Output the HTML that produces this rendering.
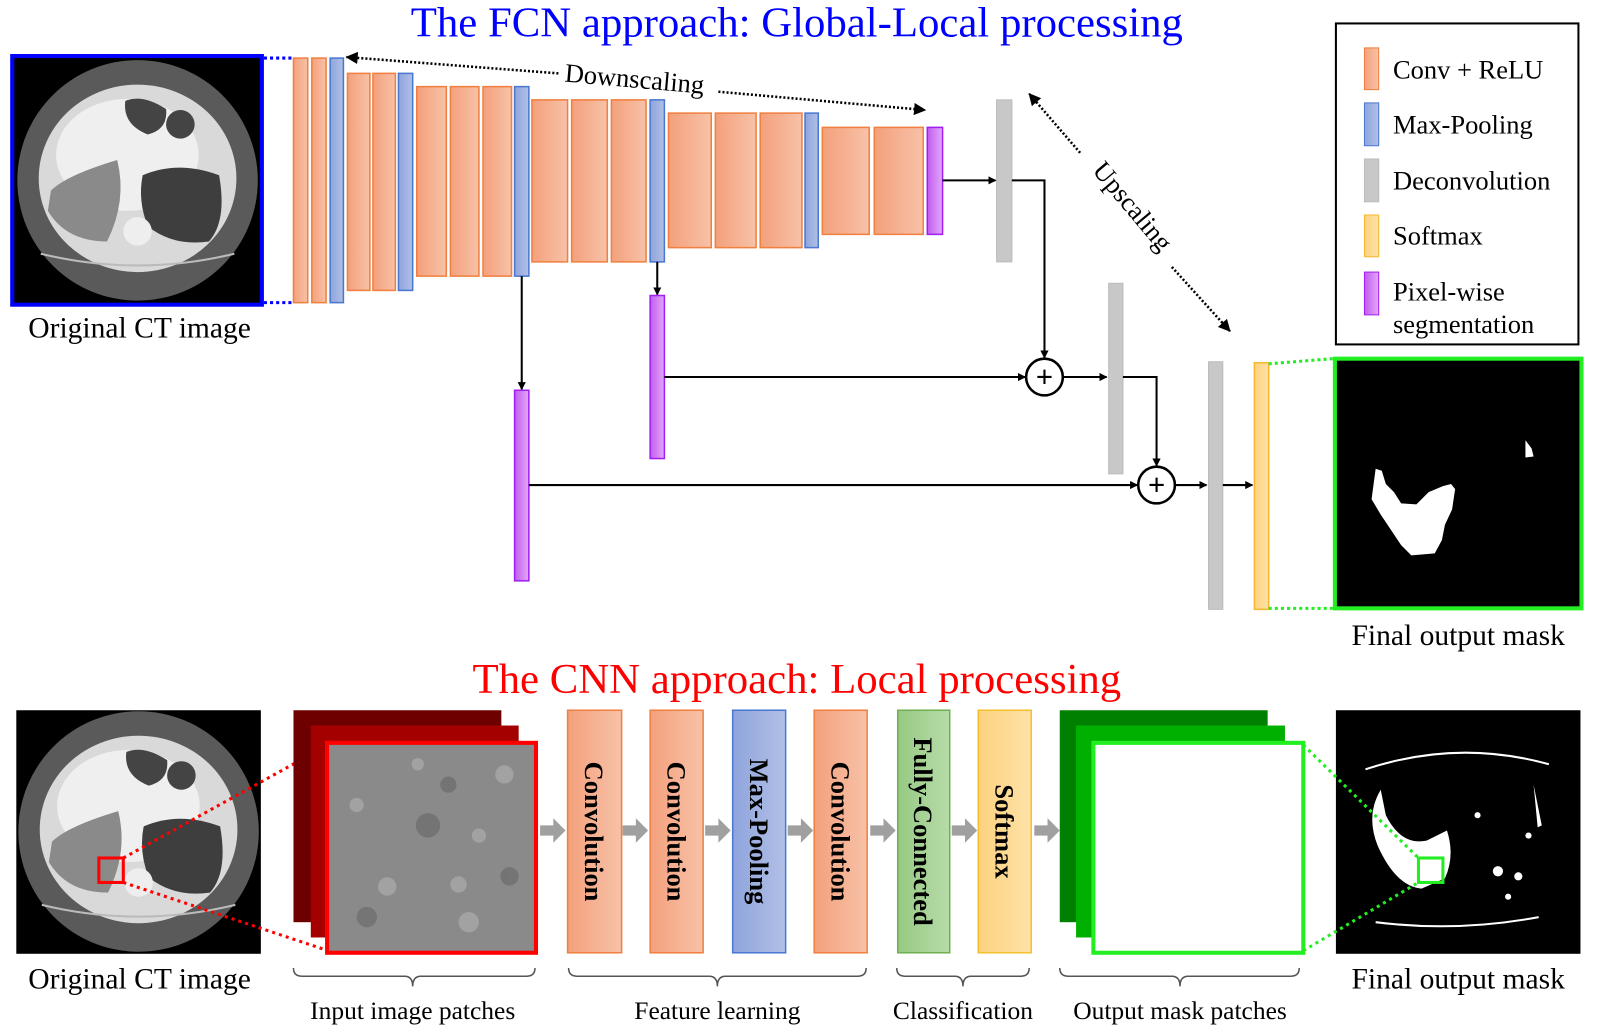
<!DOCTYPE html>
<html><head><meta charset="utf-8"><style>
html,body{margin:0;padding:0;background:#fff;}
svg{display:block;}
text{font-family:"Liberation Serif",serif;}
</style></head><body>
<svg width="1598" height="1034" viewBox="0 0 1598 1034" xmlns="http://www.w3.org/2000/svg">
<defs>
<linearGradient id="go" x1="0" x2="1"><stop offset="0" stop-color="#f4a07c"/><stop offset="1" stop-color="#f7c2a8"/></linearGradient>
<linearGradient id="gb" x1="0" x2="1"><stop offset="0" stop-color="#8ea4dc"/><stop offset="1" stop-color="#b2c0e6"/></linearGradient>
<linearGradient id="gp" x1="0" x2="1"><stop offset="0" stop-color="#c25cf0"/><stop offset="1" stop-color="#e3a8f8"/></linearGradient>
<linearGradient id="gy" x1="0" x2="1"><stop offset="0" stop-color="#fdd27e"/><stop offset="1" stop-color="#fde2a8"/></linearGradient>
<linearGradient id="gg" x1="0" x2="1"><stop offset="0" stop-color="#97c983"/><stop offset="1" stop-color="#b7dca8"/></linearGradient>
<marker id="ah" markerWidth="8" markerHeight="8" refX="7" refY="4" orient="auto" markerUnits="userSpaceOnUse"><path d="M0,0 L8,4 L0,8 Z" fill="#000"/></marker>
<marker id="ah2" markerWidth="12" markerHeight="12" refX="11" refY="6" orient="auto" markerUnits="userSpaceOnUse"><path d="M0,0 L12,6 L0,12 Z" fill="#000"/></marker>
<g id="ct">
<circle cx="0" cy="0" r="118" fill="#5a5a5a"/>
<ellipse cx="0" cy="-2" rx="97" ry="92" fill="#d9d9d9"/>
<ellipse cx="-10" cy="-25" rx="70" ry="55" fill="#efefef"/>
<path d="M-12,-78 Q5,-85 28,-70 Q30,-50 10,-45 Q-15,-55 -12,-78Z" fill="#444"/>
<circle cx="42" cy="-55" r="14" fill="#444"/>
<path d="M-85,10 Q-70,-5 -20,-20 Q-10,20 -30,60 Q-70,60 -88,30Z" fill="#8a8a8a"/>
<path d="M5,-5 Q40,-20 80,-5 Q88,40 70,60 Q35,65 10,45 Q0,20 5,-5Z" fill="#3e3e3e"/>
<circle cx="0" cy="50" r="14" fill="#eee"/>
<path d="M-95,72 Q0,95 95,72" stroke="#bbb" stroke-width="2" fill="none"/>
</g>
</defs>
<g transform="scale(1.019)">
<!-- Titles -->
<text x="782" y="36" font-size="42" fill="#0000ff" text-anchor="middle">The FCN approach: Global-Local processing</text>
<text x="782" y="680" font-size="42" fill="#ff0000" text-anchor="middle">The CNN approach: Local processing</text>

<!-- Original CT top -->
<rect x="12" y="55" width="245" height="244" fill="#000" stroke="#0000ff" stroke-width="4"/>
<use href="#ct" x="135" y="177"/>
<line x1="259" y1="57" x2="288" y2="57" stroke="#0000ff" stroke-width="3" stroke-dasharray="3,3"/>
<line x1="259" y1="297" x2="288" y2="297" stroke="#0000ff" stroke-width="3" stroke-dasharray="3,3"/>
<text x="137" y="331" font-size="29" text-anchor="middle">Original CT image</text>

<!-- Encoder -->
<g stroke-width="1.5">
<rect x="288" y="57" width="14" height="240" fill="url(#go)" stroke="#f08040"/>
<rect x="306" y="57" width="14" height="240" fill="url(#go)" stroke="#f08040"/>
<rect x="324" y="57" width="13" height="240" fill="url(#gb)" stroke="#4a78d0"/>
<rect x="341" y="72" width="22" height="213" fill="url(#go)" stroke="#f08040"/>
<rect x="366" y="72" width="22" height="213" fill="url(#go)" stroke="#f08040"/>
<rect x="391" y="72" width="14" height="213" fill="url(#gb)" stroke="#4a78d0"/>
<rect x="409" y="85" width="29" height="186" fill="url(#go)" stroke="#f08040"/>
<rect x="442" y="85" width="28" height="186" fill="url(#go)" stroke="#f08040"/>
<rect x="474" y="85" width="28" height="186" fill="url(#go)" stroke="#f08040"/>
<rect x="505" y="85" width="14" height="186" fill="url(#gb)" stroke="#4a78d0"/>
<rect x="522" y="98" width="35" height="159" fill="url(#go)" stroke="#f08040"/>
<rect x="561" y="98" width="35" height="159" fill="url(#go)" stroke="#f08040"/>
<rect x="600" y="98" width="34" height="159" fill="url(#go)" stroke="#f08040"/>
<rect x="638" y="98" width="14" height="159" fill="url(#gb)" stroke="#4a78d0"/>
<rect x="656" y="111" width="42" height="132" fill="url(#go)" stroke="#f08040"/>
<rect x="702" y="111" width="40" height="132" fill="url(#go)" stroke="#f08040"/>
<rect x="746" y="111" width="41" height="132" fill="url(#go)" stroke="#f08040"/>
<rect x="790" y="111" width="13" height="132" fill="url(#gb)" stroke="#4a78d0"/>
<rect x="807" y="125" width="46" height="105" fill="url(#go)" stroke="#f08040"/>
<rect x="858" y="125" width="48" height="105" fill="url(#go)" stroke="#f08040"/>
<rect x="910" y="125" width="15" height="105" fill="url(#gp)" stroke="#a020f0"/>
</g>
<!-- Downscaling -->
<line x1="548" y1="72" x2="340" y2="56" stroke="#000" stroke-width="2.5" stroke-dasharray="2,2" marker-end="url(#ah2)"/>
<text x="622" y="86" font-size="26" text-anchor="middle" transform="rotate(5 622 86)">Downscaling</text>
<line x1="705" y1="90" x2="908" y2="108" stroke="#000" stroke-width="2.5" stroke-dasharray="2,2" marker-end="url(#ah2)"/>

<!-- Deconv & skip -->
<rect x="978" y="98" width="15" height="159" fill="#c8c8c8" stroke="#bbb"/>
<line x1="925" y1="177" x2="977" y2="177" stroke="#000" stroke-width="2" marker-end="url(#ah)"/>
<polyline points="993,177 1025,177 1025,351" fill="none" stroke="#000" stroke-width="2" marker-end="url(#ah)"/>
<line x1="512" y1="271" x2="512" y2="382" stroke="#000" stroke-width="2" marker-end="url(#ah)"/>
<rect x="505" y="383" width="14" height="187" fill="url(#gp)" stroke="#a020f0" stroke-width="1.5"/>
<line x1="645" y1="257" x2="645" y2="289" stroke="#000" stroke-width="2" marker-end="url(#ah)"/>
<rect x="638" y="290" width="14" height="160" fill="url(#gp)" stroke="#a020f0" stroke-width="1.5"/>
<line x1="652" y1="370" x2="1006" y2="370" stroke="#000" stroke-width="2" marker-end="url(#ah)"/>
<circle cx="1025" cy="370" r="18" fill="#fff" stroke="#000" stroke-width="2.5"/>
<text x="1025" y="380" font-size="30" font-weight="bold" text-anchor="middle">+</text>
<line x1="1043" y1="370" x2="1086" y2="370" stroke="#000" stroke-width="2" marker-end="url(#ah)"/>
<rect x="1088" y="278" width="14" height="187" fill="#c8c8c8" stroke="#bbb"/>
<polyline points="1102,370 1135,370 1135,457" fill="none" stroke="#000" stroke-width="2" marker-end="url(#ah)"/>
<line x1="519" y1="476" x2="1116" y2="476" stroke="#000" stroke-width="2" marker-end="url(#ah)"/>
<circle cx="1135" cy="476" r="18" fill="#fff" stroke="#000" stroke-width="2.5"/>
<text x="1135" y="486" font-size="30" font-weight="bold" text-anchor="middle">+</text>
<line x1="1153" y1="476" x2="1184" y2="476" stroke="#000" stroke-width="2" marker-end="url(#ah)"/>
<rect x="1186" y="355" width="14" height="243" fill="#c8c8c8" stroke="#bbb"/>
<line x1="1200" y1="476" x2="1229" y2="476" stroke="#000" stroke-width="2" marker-end="url(#ah)"/>
<rect x="1231" y="356" width="14" height="242" fill="url(#gy)" stroke="#f5b830" stroke-width="1.5"/>

<!-- Upscaling -->
<line x1="1060" y1="150" x2="1010" y2="92" stroke="#000" stroke-width="2.5" stroke-dasharray="2,2" marker-end="url(#ah2)"/>
<text x="1105" y="208" font-size="26" text-anchor="middle" transform="rotate(50 1105 208)">Upscaling</text>
<line x1="1150" y1="262" x2="1207" y2="325" stroke="#000" stroke-width="2.5" stroke-dasharray="2,2" marker-end="url(#ah2)"/>

<!-- output mask top -->
<line x1="1245" y1="357" x2="1308" y2="352" stroke="#22ee22" stroke-width="3" stroke-dasharray="3,3"/>
<line x1="1245" y1="597" x2="1308" y2="597" stroke="#22ee22" stroke-width="3" stroke-dasharray="3,3"/>
<rect x="1310" y="352" width="242" height="245" fill="#000" stroke="#22ee22" stroke-width="4"/>
<path d="M1350,460 L1356,462 L1360,475 L1368,483 L1375,494 L1390,495 L1402,483 L1416,477 L1424,475 L1428,480 L1425,500 L1418,515 L1415,530 L1408,543 L1385,545 L1375,535 L1365,520 L1355,505 L1346,490 Z" fill="#fff"/>
<path d="M1497,432 L1503,440 L1505,448 L1497,449 Z" fill="#fff"/>
<text x="1431" y="633" font-size="29" text-anchor="middle">Final output mask</text>

<!-- Legend -->
<rect x="1311" y="23" width="238" height="315" fill="#fff" stroke="#000" stroke-width="2"/>
<g font-size="26">
<rect x="1339" y="47" width="14" height="41" fill="url(#go)" stroke="#f08040"/>
<text x="1367" y="77">Conv + ReLU</text>
<rect x="1339" y="101" width="14" height="42" fill="url(#gb)" stroke="#4a78d0"/>
<text x="1367" y="131">Max-Pooling</text>
<rect x="1339" y="156" width="14" height="42" fill="#c8c8c8" stroke="#bbb"/>
<text x="1367" y="186">Deconvolution</text>
<rect x="1339" y="211" width="14" height="41" fill="url(#gy)" stroke="#f5b830"/>
<text x="1367" y="240">Softmax</text>
<rect x="1339" y="267" width="14" height="42" fill="url(#gp)" stroke="#a020f0"/>
<text x="1367" y="295">Pixel-wise</text>
<text x="1367" y="327">segmentation</text>
</g>

<!-- Bottom: CT -->
<rect x="16" y="697" width="240" height="239" fill="#000"/>
<use href="#ct" x="136" y="816"/>
<rect x="97" y="842" width="24" height="24" fill="none" stroke="#f00" stroke-width="3"/>
<line x1="121" y1="842" x2="322" y2="731" stroke="#f00" stroke-width="3" stroke-dasharray="3,4"/>
<line x1="121" y1="866" x2="322" y2="933" stroke="#f00" stroke-width="3" stroke-dasharray="3,4"/>
<text x="137" y="970" font-size="29" text-anchor="middle">Original CT image</text>

<!-- patches -->
<rect x="288" y="697" width="204" height="208" fill="#6e0000"/>
<rect x="305" y="712" width="204" height="208" fill="#a50000"/>
<rect x="321" y="729" width="205" height="206" fill="#8a8a8a" stroke="#ff0000" stroke-width="4"/>
<g fill="#a8a8a8" opacity="0.8">
<circle cx="380" cy="870" r="9"/><circle cx="450" cy="868" r="8"/><circle cx="460" cy="905" r="10"/><circle cx="495" cy="760" r="9"/><circle cx="410" cy="750" r="6"/><circle cx="350" cy="790" r="7"/><circle cx="470" cy="820" r="7"/>
</g>
<g fill="#6c6c6c" opacity="0.7">
<circle cx="420" cy="810" r="12"/><circle cx="360" cy="900" r="10"/><circle cx="500" cy="860" r="9"/><circle cx="440" cy="770" r="8"/>
</g>

<!-- grey arrows -->
<g fill="#a0a0a0">
<path d="M530,810 h13 v-7 l12,12 l-12,12 v-7 h-13z"/>
<path d="M611,810 h13 v-7 l12,12 l-12,12 v-7 h-13z"/>
<path d="M692,810 h13 v-7 l12,12 l-12,12 v-7 h-13z"/>
<path d="M773,810 h13 v-7 l12,12 l-12,12 v-7 h-13z"/>
<path d="M854,810 h13 v-7 l12,12 l-12,12 v-7 h-13z"/>
<path d="M934,810 h13 v-7 l12,12 l-12,12 v-7 h-13z"/>
<path d="M1015,810 h13 v-7 l12,12 l-12,12 v-7 h-13z"/>
</g>

<!-- layer boxes -->
<g stroke-width="1.5">
<rect x="557" y="697" width="53" height="238" fill="url(#go)" stroke="#f08040"/>
<rect x="638" y="697" width="52" height="238" fill="url(#go)" stroke="#f08040"/>
<rect x="719" y="697" width="52" height="238" fill="url(#gb)" stroke="#4a78d0"/>
<rect x="799" y="697" width="52" height="238" fill="url(#go)" stroke="#f08040"/>
<rect x="881" y="697" width="51" height="238" fill="url(#gg)" stroke="#70b050"/>
<rect x="960" y="697" width="52" height="238" fill="url(#gy)" stroke="#f5c030"/>
</g>
<g font-size="26" font-weight="bold" text-anchor="middle">
<text transform="translate(583,816) rotate(90)" y="9">Convolution</text>
<text transform="translate(664,816) rotate(90)" y="9">Convolution</text>
<text transform="translate(745,816) rotate(90)" y="9">Max-Pooling</text>
<text transform="translate(825,816) rotate(90)" y="9">Convolution</text>
<text transform="translate(906,816) rotate(90)" y="9">Fully-Connected</text>
<text transform="translate(986,816) rotate(90)" y="9">Softmax</text>
</g>

<!-- output patches -->
<rect x="1040" y="697" width="204" height="208" fill="#008000"/>
<rect x="1056" y="712" width="205" height="208" fill="#00b000"/>
<rect x="1073" y="729" width="206" height="206" fill="#fff" stroke="#22ee22" stroke-width="4"/>

<!-- output mask bottom -->
<rect x="1311" y="697" width="240" height="239" fill="#000"/>
<path d="M1355,775 Q1340,800 1352,830 Q1370,870 1395,872 L1418,862 Q1428,840 1420,815 L1400,825 Q1375,830 1360,800Z" fill="#fff"/>
<path d="M1340,755 Q1430,725 1520,750" stroke="#fff" stroke-width="2" fill="none"/>
<path d="M1350,905 Q1430,915 1510,900" stroke="#fff" stroke-width="2" fill="none"/>
<g fill="#fff"><circle cx="1470" cy="855" r="5"/><circle cx="1490" cy="860" r="4"/><circle cx="1450" cy="800" r="3"/><circle cx="1500" cy="820" r="3"/><circle cx="1480" cy="880" r="3"/><path d="M1505,770 l8,40 l-4,2z"/></g>
<rect x="1392" y="842" width="24" height="24" fill="none" stroke="#22ee22" stroke-width="3"/>
<line x1="1279" y1="731" x2="1392" y2="842" stroke="#22ee22" stroke-width="3" stroke-dasharray="3,4"/>
<line x1="1279" y1="933" x2="1392" y2="866" stroke="#22ee22" stroke-width="3" stroke-dasharray="3,4"/>
<text x="1431" y="970" font-size="29" text-anchor="middle">Final output mask</text>

<!-- braces -->
<g fill="none" stroke="#555" stroke-width="1.5">
<path d="M288,950 q0,8 8,8 h101 q8,0 8,10 q0,-10 8,-10 h104 q8,0 8,-8"/>
<path d="M558,950 q0,8 8,8 h130 q8,0 8,10 q0,-10 8,-10 h130 q8,0 8,-8"/>
<path d="M880,950 q0,8 8,8 h49 q8,0 8,10 q0,-10 8,-10 h49 q8,0 8,-8"/>
<path d="M1040,950 q0,8 8,8 h102 q8,0 8,10 q0,-10 8,-10 h101 q8,0 8,-8"/>
</g>
<g font-size="25" text-anchor="middle">
<text x="405" y="1000">Input image patches</text>
<text x="704" y="1000">Feature learning</text>
<text x="945" y="1000">Classification</text>
<text x="1158" y="1000">Output mask patches</text>
</g>
</g>
</svg>
</body></html>
